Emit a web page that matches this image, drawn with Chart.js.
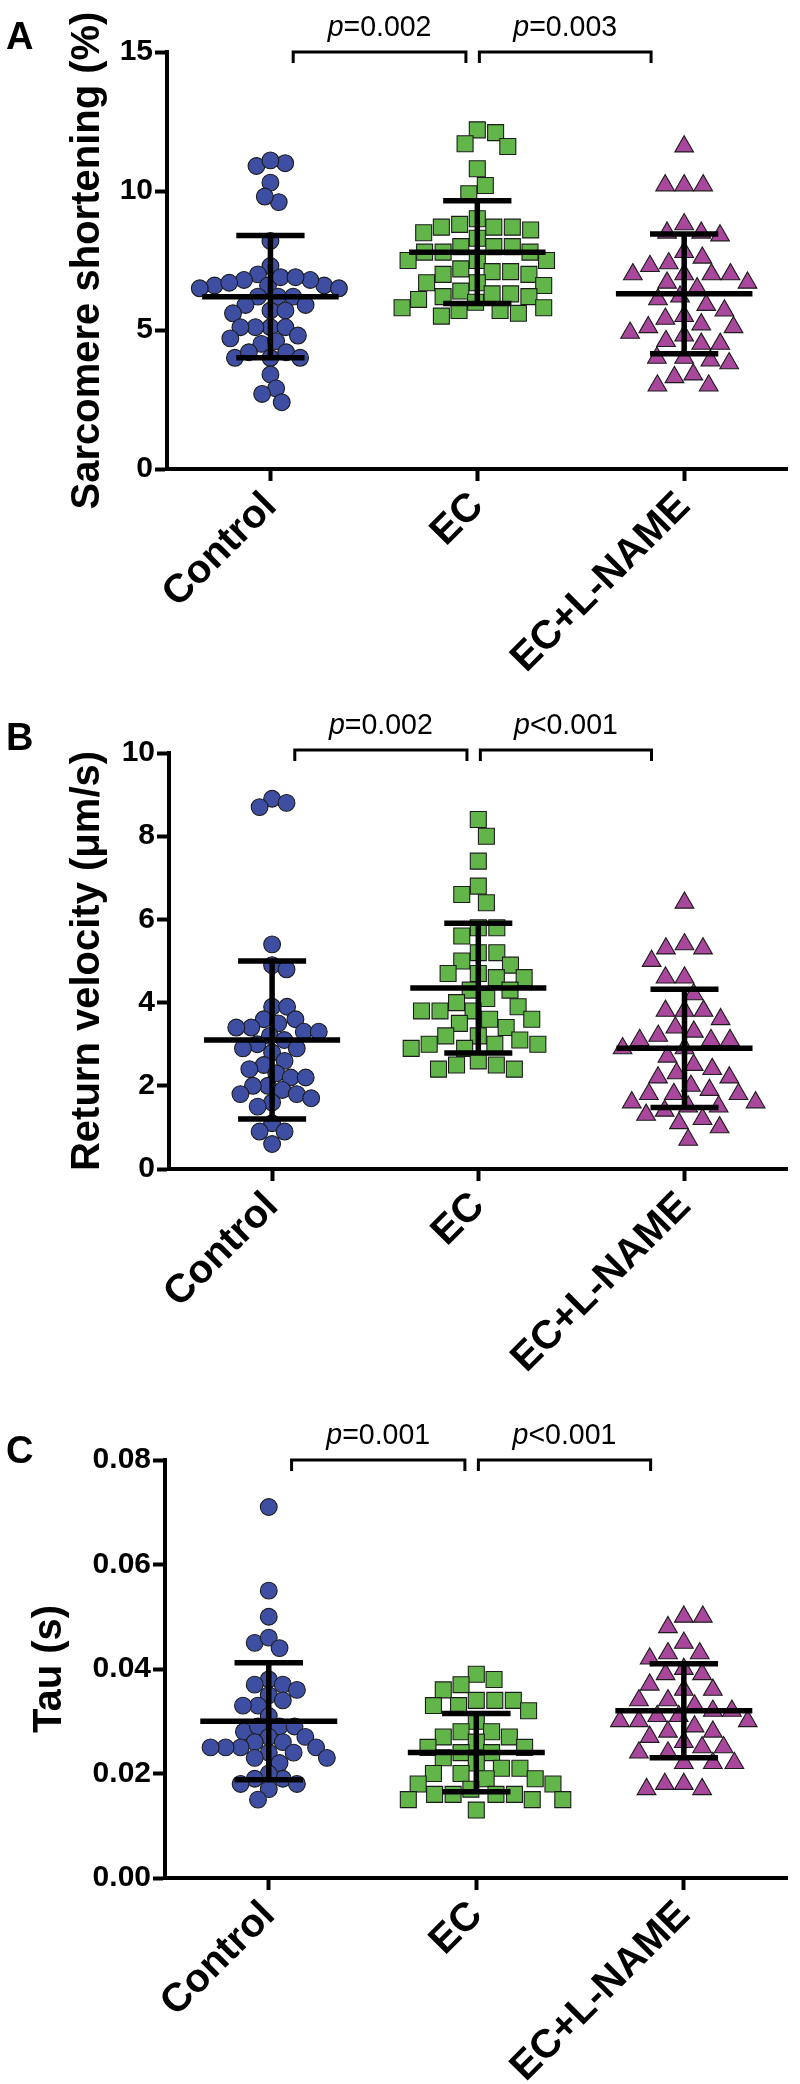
<!DOCTYPE html>
<html>
<head>
<meta charset="utf-8">
<script src="https://cdn.jsdelivr.net/npm/chart.js@4.4.1/dist/chart.umd.min.js"></script>
<style>
  html, body { margin: 0; padding: 0; background: #fff; width: 800px; height: 2084px; overflow: hidden; }
  .panel { position: absolute; left: 0; width: 800px; }
  .panel canvas { display: block; }
</style>
</head>
<body>
<div class="panel" style="top:0px;height:690px"><canvas id="cA" width="800" height="690"></canvas></div>
<div class="panel" style="top:690px;height:695px"><canvas id="cB" width="800" height="695"></canvas></div>
<div class="panel" style="top:1385px;height:699px"><canvas id="cC" width="800" height="699"></canvas></div>
<script>
// ---------------- DATA ----------------
const categories = ['Control', 'EC', 'EC+L-NAME'];

// Panel A: Sarcomere shortening (%)
const shorteningControl = [11.0, 10.9, 11.1, 10.3, 9.6, 9.8, 8.2, 7.3, 7.0, 6.8, 6.6, 6.6, 6.6, 6.7, 6.8, 6.9, 6.9, 6.5, 6.5, 6.2, 6.2, 6.2, 5.9, 5.7, 5.6, 5.7, 5.9, 5.1, 5.1, 5.1, 5.1, 4.7, 4.5, 4.6, 4.8, 4.2, 4.0, 4.0, 4.0, 4.2, 3.4, 2.9, 2.7, 2.4];
const shorteningEC = [12.1, 12.2, 11.7, 11.6, 10.8, 10.2, 9.9, 8.8, 8.7, 8.6, 8.5, 8.7, 8.7, 9.0, 8.3, 8.0, 8.0, 7.8, 7.8, 7.8, 8.0, 7.5, 7.5, 7.5, 7.2, 7.0, 7.0, 7.1, 7.1, 6.7, 6.7, 6.6, 6.3, 6.1, 6.3, 6.4, 6.2, 6.2, 5.8, 5.7, 5.7, 5.8, 6.0, 5.5, 5.6];
const shorteningECLN = [11.6, 10.2, 10.2, 10.2, 8.8, 8.5, 8.5, 8.4, 7.8, 7.6, 7.3, 7.4, 7.0, 7.0, 7.0, 7.0, 6.7, 6.7, 6.2, 5.9, 6.5, 6.1, 5.7, 5.5, 5.4, 5.2, 5.1, 5.1, 4.8, 4.9, 4.6, 4.5, 4.5, 4.0, 4.0, 3.8, 3.9, 3.3, 3.4, 3.0, 3.0];
const shorteningMean = [6.2, 7.8, 6.3];
const shorteningSD = [2.2, 1.85, 2.15];
const shorteningTicks = [0, 5, 10, 15];
const shorteningP = ['=0.002', '=0.003'];

// Panel B: Return velocity (µm/s)
const velocityControl = [8.9, 8.7, 8.8, 5.4, 4.9, 4.8, 3.9, 3.9, 3.6, 3.6, 3.5, 3.3, 3.4, 3.4, 3.3, 3.2, 3.0, 3.1, 2.9, 2.9, 2.8, 2.5, 2.6, 2.4, 2.3, 2.2, 2.2, 2.0, 1.9, 2.0, 1.8, 1.8, 1.6, 1.7, 1.5, 1.1, 0.9, 0.9, 0.6];
const velocityEC = [8.4, 8.0, 7.4, 6.8, 6.6, 6.4, 5.8, 5.8, 5.6, 5.2, 5.2, 5.0, 4.9, 4.7, 4.6, 4.6, 4.7, 4.3, 4.3, 4.1, 4.0, 3.8, 3.8, 3.8, 3.9, 3.6, 3.6, 3.4, 3.5, 3.2, 3.2, 3.0, 3.0, 3.1, 2.9, 3.0, 2.9, 2.6, 2.5, 2.5, 2.4, 2.4];
const velocityECLN = [6.4, 5.3, 5.3, 5.4, 5.0, 4.6, 4.6, 4.2, 3.8, 3.8, 3.6, 3.8, 3.4, 3.2, 3.3, 3.1, 3.1, 3.1, 2.9, 2.7, 2.9, 2.4, 2.5, 2.2, 2.3, 2.2, 2.0, 1.8, 1.9, 1.8, 1.8, 1.6, 1.6, 1.5, 1.4, 1.5, 1.1, 1.0, 1.2, 1.3, 0.7];
const velocityMean = [3.1, 4.35, 2.9];
const velocitySD = [1.9, 1.56, 1.42];
const velocityTicks = [0, 2, 4, 6, 8, 10];
const velocityP = ['=0.002', '<0.001'];

// Panel C: Tau (s)
const tauControl = [0.071, 0.055, 0.050, 0.045, 0.046, 0.044, 0.038, 0.037, 0.037, 0.035, 0.036, 0.033, 0.034, 0.033, 0.031, 0.029, 0.028, 0.029, 0.029, 0.027, 0.026, 0.027, 0.026, 0.025, 0.024, 0.025, 0.025, 0.025, 0.024, 0.023, 0.023, 0.022, 0.019, 0.020, 0.019, 0.018, 0.018, 0.017, 0.015];
const tauEC = [0.039, 0.038, 0.037, 0.036, 0.034, 0.033, 0.033, 0.034, 0.034, 0.032, 0.030, 0.028, 0.028, 0.027, 0.027, 0.026, 0.025, 0.025, 0.024, 0.024, 0.023, 0.022, 0.021, 0.020, 0.020, 0.021, 0.019, 0.018, 0.018, 0.019, 0.017, 0.016, 0.016, 0.016, 0.015, 0.015, 0.015, 0.016, 0.013];
const tauECLN = [0.050, 0.050, 0.048, 0.045, 0.043, 0.043, 0.042, 0.040, 0.039, 0.039, 0.036, 0.036, 0.037, 0.034, 0.033, 0.034, 0.032, 0.032, 0.031, 0.031, 0.030, 0.029, 0.030, 0.030, 0.028, 0.028, 0.027, 0.026, 0.025, 0.025, 0.024, 0.024, 0.022, 0.022, 0.022, 0.018, 0.017, 0.017, 0.018];
const tauMean = [0.030, 0.024, 0.032];
const tauSD = [0.0112, 0.0075, 0.009];
const tauTicks = [0, 0.02, 0.04, 0.06, 0.08];
const tauP = ['=0.001', '<0.001'];

// ---------------- STYLE ----------------
const FONT = "'Liberation Sans', Arial, Helvetica, sans-serif";
Chart.defaults.font.family = FONT;
Chart.defaults.color = '#000';

const groupStyles = [
  { color: '#3E4FA3', pointStyle: 'circle', radius: 8.4, collide: 15 },
  { color: '#62B548', pointStyle: 'rect', radius: 11.3, collide: 18.5 },
  { color: '#A8479C', pointStyle: 'triangle', radius: 10.8, collide: 19 }
];
const MEAN_HALF = 0.33;
const CAP_HALF = 0.165;
const BRACKET_INSETS = [[0.11, 0.055], [0.01, 0.16]];

const panels = [
  { canvas: 'cA', height: 690, letter: 'A', title: 'Sarcomere shortening (%)',
    groups: [shorteningControl, shorteningEC, shorteningECLN], mean: shorteningMean, sd: shorteningSD,
    ticks: shorteningTicks, p: shorteningP, decimals: 0,
    area: { top: 52, bottom: 469, left: 167, right: 794 }, titleX: 88, bracketLift: 0, letterDy: -3 },
  { canvas: 'cB', height: 695, letter: 'B', title: 'Return velocity (\u03bcm/s)',
    groups: [velocityControl, velocityEC, velocityECLN], mean: velocityMean, sd: velocitySD,
    ticks: velocityTicks, p: velocityP, decimals: 0,
    area: { top: 63, bottom: 479, left: 169, right: 796 }, titleX: 88, bracketLift: 3, letterDy: -3 },
  { canvas: 'cC', height: 699, letter: 'C', title: 'Tau (s)',
    groups: [tauControl, tauEC, tauECLN], mean: tauMean, sd: tauSD,
    ticks: tauTicks, p: tauP, decimals: 2,
    area: { top: 75, bottom: 493, left: 165, right: 797 }, titleX: 50, bracketLift: 0, letterDy: 3 }
];

function errorBarData(means, sds) {
  const d = [];
  means.forEach((m, i) => {
    const s = sds[i];
    d.push({ x: i - MEAN_HALF, y: m }, { x: i + MEAN_HALF, y: m }, { x: i, y: null });
    d.push({ x: i - CAP_HALF, y: m + s }, { x: i + CAP_HALF, y: m + s }, { x: i, y: null });
    d.push({ x: i - CAP_HALF, y: m - s }, { x: i + CAP_HALF, y: m - s }, { x: i, y: null });
    d.push({ x: i, y: m - s }, { x: i, y: m + s }, { x: i, y: null });
  });
  return d;
}

// beeswarm layout (pixel space) computed from the values
function swarmOffsets(values, yPix, diam) {
  const order = values.map((v, i) => i).sort((a, b) => values[b] - values[a]);
  const placed = [];
  const off = new Array(values.length).fill(0);
  let flip = 1;
  for (const i of order) {
    const y = yPix(values[i]);
    const cands = [0];
    for (const p of placed) {
      const dy = Math.abs(p.y - y);
      if (dy < diam) {
        const dx = Math.sqrt(diam * diam - dy * dy) + 0.01;
        cands.push(p.x + dx, p.x - dx);
      }
    }
    cands.sort((a, b) => (Math.abs(a) - Math.abs(b)) || (flip * (a - b)));
    let chosen = 0;
    for (const c of cands) {
      if (placed.every(p => (p.x - c) ** 2 + (p.y - y) ** 2 >= diam * diam - 0.5)) { chosen = c; break; }
    }
    flip = -flip;
    placed.push({ x: chosen, y });
    off[i] = chosen;
  }
  return off;
}

const annotatePlugin = {
  id: 'annotatePanel',
  afterDraw(chart) {
    const cfg = chart.options.plugins.annotatePanel;
    const { ctx, scales: { x, y }, chartArea } = chart;
    ctx.save();
    ctx.fillStyle = '#000';
    ctx.strokeStyle = '#000';
    ctx.textAlign = 'left';
    ctx.textBaseline = 'alphabetic';
    ctx.font = 'bold 38px ' + FONT;
    ctx.fillText(cfg.letter, 6, chartArea.top + cfg.letterDy);

    const yTop = y.getPixelForValue(y.max) - cfg.bracketLift;
    cfg.p.forEach((txt, k) => {
      const x1 = x.getPixelForValue(k + BRACKET_INSETS[k][0]);
      const x2 = x.getPixelForValue(k + 1 - BRACKET_INSETS[k][1]);
      ctx.lineWidth = 3;
      ctx.lineJoin = 'miter';
      ctx.beginPath();
      ctx.moveTo(x1, yTop + 11);
      ctx.lineTo(x1, yTop);
      ctx.lineTo(x2, yTop);
      ctx.lineTo(x2, yTop + 11);
      ctx.stroke();
      const SX = 0.95;
      ctx.font = 'italic 30px ' + FONT;
      const wp = ctx.measureText('p').width * SX;
      ctx.font = '30px ' + FONT;
      const wr = ctx.measureText(txt).width * SX;
      const sx = (x1 + x2) / 2 - (wp + wr) / 2;
      const by = yTop - 16;
      ctx.save();
      ctx.translate(sx, by);
      ctx.scale(SX, 1);
      ctx.font = 'italic 30px ' + FONT;
      ctx.fillText('p', 0, 0);
      ctx.font = '30px ' + FONT;
      ctx.fillText(txt, wp / SX, 0);
      ctx.restore();
    });
    ctx.restore();
  }
};

function makePanel(P) {
  const ctx = document.getElementById(P.canvas).getContext('2d');
  const datasets = [];
  P.groups.forEach((vals, g) => {
    const st = groupStyles[g];
    datasets.push({
      type: 'scatter',
      label: categories[g],
      data: vals.map(v => ({ x: g, y: v })),
      pointStyle: st.pointStyle,
      pointRadius: st.radius,
      pointHoverRadius: st.radius,
      backgroundColor: st.color,
      borderColor: '#1c1c1c',
      borderWidth: 1.1,
      order: 1
    });
  });
  datasets.push({
    type: 'line',
    label: 'mean \u00b1 SD',
    data: errorBarData(P.mean, P.sd),
    borderColor: '#000',
    borderWidth: 5.5,
    borderCapStyle: 'butt',
    pointRadius: 0,
    spanGaps: false,
    fill: false,
    tension: 0,
    order: 0
  });
  const gridCfg = { display: true, drawOnChartArea: false, drawTicks: true, tickLength: 12, tickWidth: 4, tickColor: '#000' };
  const borderCfg = { display: true, color: '#000', width: 4 };
  const chart = new Chart(ctx, {
    type: 'scatter',
    data: { datasets },
    options: {
      responsive: false,
      maintainAspectRatio: false,
      animation: false,
      events: [],
      layout: { padding: { top: P.area.top, right: 800 - P.area.right, left: 0, bottom: 0 } },
      plugins: {
        legend: { display: false },
        tooltip: { enabled: false },
        annotatePanel: { letter: P.letter, p: P.p, bracketLift: P.bracketLift, letterDy: P.letterDy }
      },
      scales: {
        x: {
          type: 'linear', min: -0.5, max: 2.5,
          afterBuildTicks: s => { s.ticks = categories.map((c, i) => ({ value: i })); },
          afterFit: s => { s.height = P.height - P.area.bottom; },
          ticks: {
            autoSkip: false, maxRotation: 45, minRotation: 45, padding: 2, color: '#000',
            font: { size: 40, weight: 'bold', family: FONT },
            callback: v => categories[v]
          },
          grid: gridCfg,
          border: borderCfg
        },
        y: {
          type: 'linear', min: P.ticks[0], max: P.ticks[P.ticks.length - 1],
          afterBuildTicks: s => { s.ticks = P.ticks.map(v => ({ value: v })); },
          afterFit: s => { s.width = P.area.left; },
          ticks: {
            padding: 2, color: '#000',
            font: { size: 30, weight: 'bold', family: FONT },
            callback: v => Number(v).toFixed(P.decimals)
          },
          grid: gridCfg,
          border: borderCfg,
          title: {
            display: true, text: P.title, color: '#000',
            font: { size: 40, weight: 'bold', family: FONT },
            padding: { top: P.titleX - 24, bottom: 0 }
          }
        }
      }
    },
    plugins: [annotatePlugin]
  });
  // spread points horizontally (beeswarm) using the chart's own scales
  const xs = chart.scales.x, ys = chart.scales.y;
  const pxPerUnit = xs.getPixelForValue(1) - xs.getPixelForValue(0);
  P.groups.forEach((vals, g) => {
    const offs = swarmOffsets(vals, v => ys.getPixelForValue(v), groupStyles[g].collide);
    chart.data.datasets[g].data = vals.map((v, i) => ({ x: g + offs[i] / pxPerUnit, y: v }));
  });
  chart.update('none');
  return chart;
}

panels.forEach(makePanel);
</script>
</body>
</html>
